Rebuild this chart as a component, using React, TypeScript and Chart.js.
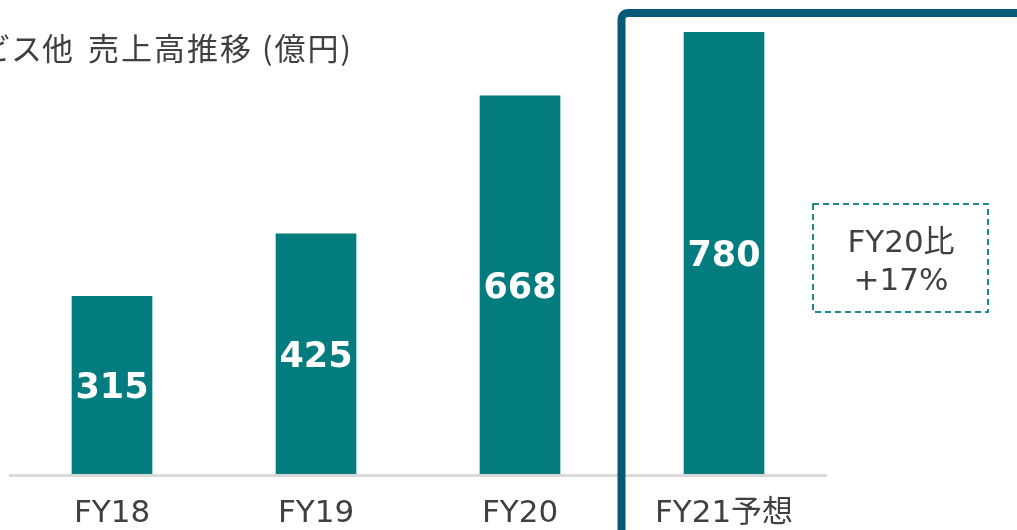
import React, { useEffect, useRef } from "react";
import { Chart, registerables } from "chart.js";

Chart.register(...registerables);

const categories = ["FY18", "FY19", "FY20", "FY21予想"];
const sales = [315, 425, 668, 780];
const titleLead = "ビス他";
const titleMain = "売上高推移 (億円)";
const noteLines = ["FY20比", "+17%"];

const BAR = "#037c80";
const FRAME = "#055a78";
const TEXT = "#404040";
const LATIN = "'DejaVu Sans', 'Noto Sans CJK JP', sans-serif";
const CJK = "'Noto Sans CJK JP', sans-serif";

const overlay = {
  id: "overlay",
  afterDatasetsDraw(chart: any) {
    const ctx = chart.ctx;
    const meta = chart.getDatasetMeta(0);
    ctx.save();
    ctx.fillStyle = "#ffffff";
    ctx.font = `bold 35px ${LATIN}`;
    ctx.textAlign = "center";
    ctx.textBaseline = "middle";
    meta.data.forEach((el: any, i: number) => {
      const cy = (el.y + el.base) / 2 + 3;
      ctx.fillText(String(sales[i]), el.x, cy);
    });
    ctx.restore();
  },
  afterDraw(chart: any) {
    const ctx = chart.ctx;
    ctx.save();
    // title
    ctx.fillStyle = TEXT;
    ctx.font = `31px ${CJK}`;
    ctx.textAlign = "left";
    ctx.textBaseline = "alphabetic";
    (ctx as any).letterSpacing = "0px";
    ctx.fillText(titleLead, -20, 60);
    (ctx as any).letterSpacing = "2px";
    ctx.fillText(titleMain, 88, 60);
    (ctx as any).letterSpacing = "0px";

    // highlight frame
    ctx.strokeStyle = FRAME;
    ctx.lineWidth = 8;
    ctx.lineJoin = "round";
    const fx = 621.5, fy = 13, r = 6;
    ctx.beginPath();
    ctx.moveTo(fx, 560);
    ctx.lineTo(fx, fy + r);
    ctx.arcTo(fx, fy, fx + r, fy, r);
    ctx.lineTo(1040, fy);
    ctx.stroke();

    // dashed note box
    ctx.strokeStyle = "#1f8787";
    ctx.lineWidth = 2;
    ctx.setLineDash([6, 4]);
    ctx.strokeRect(813, 204, 175, 108);
    ctx.setLineDash([]);
    ctx.fillStyle = TEXT;
    ctx.font = `31px ${LATIN}`;
    ctx.textAlign = "center";
    ctx.fillText(noteLines[0], 901, 252);
    ctx.fillText(noteLines[1], 901, 290);
    ctx.restore();
  },
};

export default function App() {
  const ref = useRef<HTMLCanvasElement>(null);
  useEffect(() => {
    document.body.style.margin = "0";
    const chart = new Chart(ref.current!, {
      type: "bar",
      data: {
        labels: categories,
        datasets: [
          {
            data: sales,
            backgroundColor: BAR,
            borderWidth: 0,
            barThickness: 80,
          },
        ],
      },
      options: {
        responsive: false,
        animation: false,
        devicePixelRatio: 1,
        layout: { padding: { left: 10, right: 191, top: 4, bottom: 0 } },
        plugins: { legend: { display: false }, tooltip: { enabled: false } },
        scales: {
          x: {
            type: "category",
            offset: true,
            grid: { display: false, drawTicks: false, tickLength: 0 },
            border: { display: true, color: "#d9d9d9", width: 3, z: 1 },
            ticks: {
              color: TEXT,
              font: { family: LATIN, size: 31 },
              padding: 20,
              maxRotation: 0,
              autoSkip: false,
            },
            afterFit: (s: any) => {
              s.height = 55;
            },
          },
          y: { display: false, min: 0, max: 830 },
        },
      },
      plugins: [overlay],
    });
    return () => chart.destroy();
  }, []);
  return (
    <div style={{ position: "fixed", left: 0, top: 0, width: 1017, height: 530, background: "#fff" }}>
      <canvas ref={ref} width={1017} height={530} />
    </div>
  );
}
